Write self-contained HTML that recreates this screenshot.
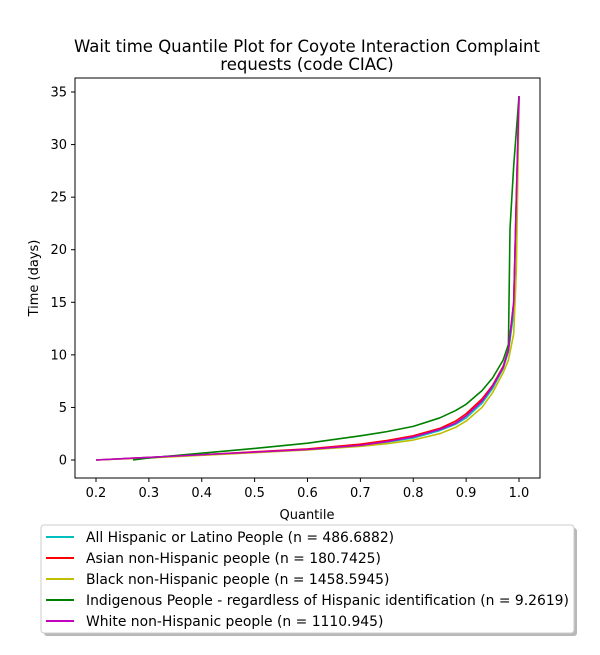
<!DOCTYPE html>
<html><head><meta charset="utf-8"><style>
body{margin:0;background:#fff;font-family:"Liberation Sans",sans-serif}
text{font-family:"DejaVu Sans","Liberation Sans",sans-serif}
</style></head><body>
<svg width="600" height="650">
<text x="307" y="52" text-anchor="middle" font-size="16.5">Wait time Quantile Plot for Coyote Interaction Complaint</text>
<text x="307" y="70" text-anchor="middle" font-size="16.5">requests (code CIAC)</text>
<g id="plot"></g>
<rect x="75" y="78" width="465" height="400" fill="none" stroke="#000" stroke-width="1"/>
<g id="ticks"></g>
<text x="307" y="519" text-anchor="middle" font-size="13">Quantile</text>
<text transform="translate(38,278) rotate(-90)" text-anchor="middle" font-size="13">Time (days)</text>
<rect x="44" y="528" width="533" height="108" fill="#888" opacity="0.6" rx="3"/>
<rect x="41" y="525" width="533" height="108" fill="#fff" stroke="#ccc" rx="3"/>
<g id="legend"></g>
</svg>
<script>
const xTicks=[0.2,0.3,0.4,0.5,0.6,0.7,0.8,0.9,1.0];
const yTicks=[0,5,10,15,20,25,30,35];
const names=["All Hispanic or Latino People (n = 486.6882)","Asian non-Hispanic people (n = 180.7425)","Black non-Hispanic people (n = 1458.5945)","Indigenous People - regardless of Hispanic identification (n = 9.2619)","White non-Hispanic people (n = 1110.945)"];
const colors=["#00bfbf","#ff0000","#bfbf00","#008000","#bf00bf"];
const qHisp=[0.2,0.3,0.4,0.5,0.6,0.7,0.75,0.8,0.85,0.88,0.9,0.93,0.95,0.97,0.98,0.99,0.995,1.0];
const vHisp=[0,0.25,0.5,0.75,1.0,1.4,1.7,2.1,2.8,3.4,4.0,5.4,6.8,8.7,10.3,14,24,34.6];
const qAsian=[0.2,0.3,0.4,0.5,0.6,0.7,0.75,0.8,0.85,0.88,0.9,0.93,0.95,0.97,0.98,0.99,0.995,1.0];
const vAsian=[0,0.25,0.5,0.78,1.05,1.5,1.85,2.3,3.0,3.7,4.4,5.8,7.1,8.9,10.5,15,25,34.6];
const qBlack=[0.2,0.3,0.4,0.5,0.6,0.7,0.75,0.8,0.85,0.88,0.9,0.93,0.95,0.97,0.98,0.99,0.995,1.0];
const vBlack=[0,0.2,0.45,0.7,0.95,1.3,1.55,1.9,2.5,3.1,3.7,5.0,6.4,8.3,9.5,12,18,34];
const qIndig=[0.27,0.3,0.4,0.5,0.6,0.7,0.75,0.8,0.85,0.88,0.9,0.93,0.95,0.97,0.98,0.983,0.99,1.0];
const vIndig=[0,0.2,0.65,1.1,1.6,2.3,2.7,3.2,4.0,4.7,5.3,6.6,7.8,9.5,11,22,28,34.6];
const qWhite=[0.2,0.3,0.4,0.5,0.6,0.7,0.75,0.8,0.85,0.88,0.9,0.93,0.95,0.97,0.98,0.99,0.995,1.0];
const vWhite=[0,0.25,0.5,0.75,1.0,1.4,1.75,2.2,2.9,3.5,4.2,5.6,7.0,8.8,10.5,15,25,34.6];
const series=[[qHisp,vHisp],[qAsian,vAsian],[qBlack,vBlack],[qIndig,vIndig],[qWhite,vWhite]];
const X=q=>96+(q-0.2)*528.75, Y=v=>460-v*10.514;
const NS="http://www.w3.org/2000/svg";
const plot=document.getElementById('plot'),tk=document.getElementById('ticks'),lg=document.getElementById('legend');
function mk(tag,at,parent){const e=document.createElementNS(NS,tag);for(const k in at)e.setAttribute(k,at[k]);parent.appendChild(e);return e;}
series.forEach((s,i)=>{
 const p=mk('polyline',{points:s[0].map((q,j)=>X(q)+','+Y(s[1][j])).join(' '),fill:'none',stroke:colors[i],'stroke-width':1.6,'stroke-linejoin':'round'},plot);
 
 
});
xTicks.forEach(t=>{
 mk('line',{x1:X(t),x2:X(t),y1:478,y2:482,stroke:'#000'},tk);
 const e=mk('text',{x:X(t),y:497,'text-anchor':'middle','font-size':13},tk);e.textContent=t.toFixed(1);
 
 
});
yTicks.forEach(t=>{
 mk('line',{x1:71,x2:75,y1:Y(t),y2:Y(t),stroke:'#000'},tk);
 const e=mk('text',{x:67,y:Y(t)+4.5,'text-anchor':'end','font-size':13},tk);e.textContent=t;
 
 
});
names.forEach((n,i)=>{
 const y=537+i*21;
 mk('line',{x1:46,x2:74,y1:y,y2:y,stroke:colors[i],'stroke-width':2},lg);
 const e=mk('text',{x:86,y:y+5,'font-size':13.9},lg);e.textContent=n;
 
 
});
</script>
</body></html>
